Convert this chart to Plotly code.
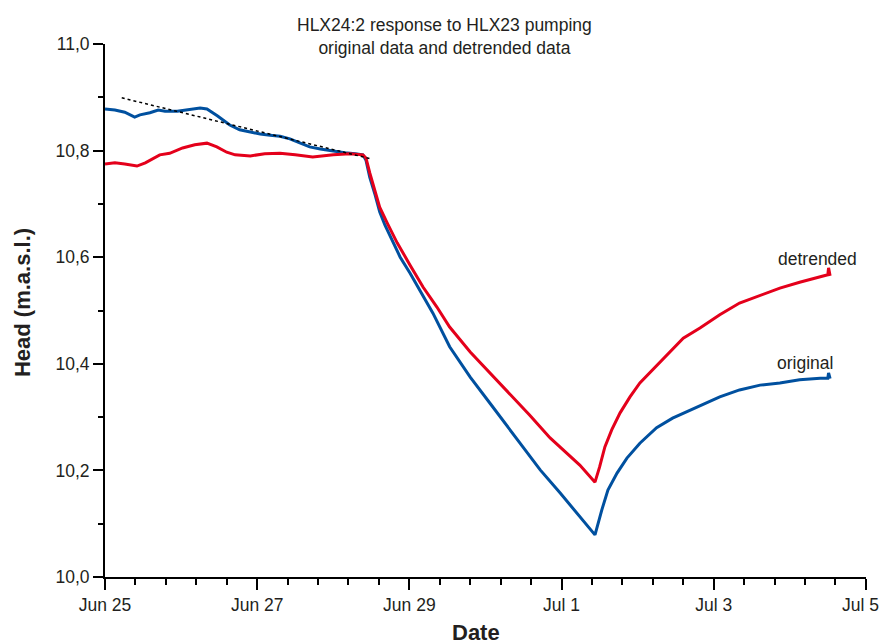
import pandas as pd
import plotly.graph_objects as go

# Time axis: days elapsed since 25 June 00:00
START = pd.Timestamp("2008-06-25")

orig_days = [0.00, 0.13, 0.26, 0.39, 0.46, 0.59, 0.70, 0.79, 0.95, 1.12, 1.25, 1.34,
             1.48, 1.64, 1.77, 1.91, 2.04, 2.17, 2.30, 2.43, 2.56, 2.69, 2.83, 3.00,
             3.15, 3.29, 3.39, 3.43, 3.48, 3.55, 3.61, 3.68, 3.75, 3.88, 4.01, 4.14,
             4.31, 4.53, 4.80, 5.06, 5.32, 5.45, 5.72, 5.98, 6.24, 6.44, 6.53, 6.61,
             6.73, 6.86, 7.03, 7.25, 7.46, 7.69, 7.91, 8.08, 8.34, 8.61, 8.87, 9.13,
             9.40, 9.50, 9.51, 9.53]
orig_head = [10.878, 10.876, 10.872, 10.863, 10.867, 10.871, 10.876, 10.874, 10.874, 10.878,
             10.880, 10.878, 10.865, 10.848, 10.839, 10.835, 10.831, 10.829, 10.827, 10.822,
             10.814, 10.807, 10.803, 10.799, 10.796, 10.794, 10.792, 10.782, 10.750, 10.717,
             10.685, 10.660, 10.638, 10.600, 10.570, 10.538, 10.495, 10.432, 10.375, 10.326,
             10.276, 10.251, 10.201, 10.158, 10.113, 10.079, 10.126, 10.163, 10.195, 10.223,
             10.251, 10.280, 10.298, 10.313, 10.326, 10.338, 10.351, 10.360, 10.364, 10.370,
             10.373, 10.373, 10.383, 10.372]

detr_days = [0.00, 0.13, 0.26, 0.42, 0.53, 0.59, 0.72, 0.85, 1.02, 1.18, 1.34, 1.47,
             1.60, 1.71, 1.91, 2.10, 2.30, 2.50, 2.73, 3.00, 3.22, 3.39, 3.43, 3.48,
             3.55, 3.61, 3.71, 3.84, 4.01, 4.18, 4.36, 4.53, 4.80, 5.06, 5.32, 5.58,
             5.85, 5.98, 6.24, 6.44, 6.50, 6.57, 6.66, 6.77, 6.90, 7.03, 7.19, 7.29,
             7.60, 7.82, 8.08, 8.34, 8.61, 8.87, 9.13, 9.40, 9.50, 9.51, 9.53]
detr_head = [10.775, 10.777, 10.775, 10.771, 10.777, 10.782, 10.792, 10.795, 10.805, 10.811,
             10.814, 10.807, 10.797, 10.792, 10.790, 10.794, 10.795, 10.792, 10.788, 10.792,
             10.794, 10.792, 10.786, 10.758, 10.726, 10.694, 10.664, 10.627, 10.585, 10.544,
             10.507, 10.469, 10.422, 10.383, 10.345, 10.304, 10.261, 10.244, 10.210, 10.178,
             10.206, 10.244, 10.276, 10.308, 10.338, 10.364, 10.388, 10.402, 10.448, 10.467,
             10.492, 10.514, 10.529, 10.542, 10.553, 10.563, 10.567, 10.580, 10.565]

# Pre-pumping linear trend fitted to the original record
trend_days = [0.22, 3.51]
trend_head = [10.899, 10.784]

x_tick_days = [0, 2, 4, 6, 8, 10]
x_tick_labels = ["Jun 25", "Jun 27", "Jun 29", "Jul 1", "Jul 3", "Jul 5"]
y_tick_vals = [10.0, 10.2, 10.4, 10.6, 10.8, 11.0]
y_tick_labels = ["10,0", "10,2", "10,4", "10,6", "10,8", "11,0"]


def to_dates(days):
    return START + pd.to_timedelta(days, unit="D")


FONT = "Liberation Sans, Arial, Helvetica, sans-serif"
BLUE = "#00509f"
RED = "#e4001b"
TXT = "#231f20"
TICK_FONT = dict(family=FONT, size=17.5, color=TXT)

fig = go.Figure()
fig.add_trace(go.Scatter(x=to_dates(orig_days), y=orig_head, mode="lines",
                         line=dict(color=BLUE, width=3), name="original"))
fig.add_trace(go.Scatter(x=to_dates(detr_days), y=detr_head, mode="lines",
                         line=dict(color=RED, width=3), name="detrended"))
fig.add_trace(go.Scatter(x=to_dates(trend_days), y=trend_head, mode="lines",
                         line=dict(color="black", width=1.5, dash="dot"), name="trend"))

# The last date label sits against the right edge, so it is drawn as an
# annotation pinned to the page border instead of a centred tick label.
axis_labels = x_tick_labels[:-1] + [""]

fig.update_layout(
    width=882, height=644,
    margin=dict(l=105, r=16, t=44, b=67, autoexpand=False),
    paper_bgcolor="white", plot_bgcolor="white",
    showlegend=False,
    font=dict(family=FONT, size=17.5, color=TXT),
    xaxis=dict(
        range=[to_dates([0])[0], to_dates([10.002])[0]],
        tickmode="array", tickvals=to_dates(x_tick_days), ticktext=axis_labels,
        ticks="outside", ticklen=11, tickwidth=2, tickcolor="black",
        ticklabeloverflow="allow", automargin=False,
        showline=True, linecolor="black", linewidth=2,
        showgrid=False, zeroline=False,
        tickfont=TICK_FONT,
        minor=dict(ticks="outside", ticklen=6, tickwidth=2, tickcolor="black",
                   dtick=0.4 * 86400000, tick0=START, showgrid=False),
    ),
    yaxis=dict(
        range=[10.0, 11.0],
        tickmode="array", tickvals=y_tick_vals, ticktext=y_tick_labels,
        ticks="outside", ticklen=10, tickwidth=2, tickcolor="black",
        showline=True, linecolor="black", linewidth=2,
        showgrid=False, zeroline=False, automargin=False,
        tickfont=TICK_FONT,
        minor=dict(ticks="outside", ticklen=5, tickwidth=2, tickcolor="black",
                   dtick=0.1, tick0=10.0, showgrid=False),
    ),
    annotations=[
        dict(text=x_tick_labels[-1], xref="paper", yref="paper", x=1.0195, y=-0.0525,
             xanchor="right", yanchor="middle", showarrow=False, font=TICK_FONT),
        dict(text="HLX24:2 response to HLX23 pumping<br>original data and detrended data",
             xref="paper", yref="paper", x=0.4465, y=1.014,
             xanchor="center", yanchor="middle", showarrow=False,
             font=dict(family=FONT, size=17.5, color=TXT)),
        dict(text="<b>Date</b>", xref="paper", yref="paper", x=0.4875, y=-0.105,
             xanchor="center", yanchor="middle", showarrow=False,
             font=dict(family=FONT, size=22, color=TXT)),
        dict(text="<b>Head (m.a.s.l.)</b>", xref="paper", yref="paper", x=-0.109, y=0.514,
             xanchor="center", yanchor="middle", textangle=-90, showarrow=False,
             font=dict(family=FONT, size=22, color=TXT)),
        dict(text="detrended", x=to_dates([9.36])[0], y=10.597, xref="x", yref="y",
             xanchor="center", yanchor="middle", showarrow=False,
             font=dict(family=FONT, size=17.5, color=TXT)),
        dict(text="original", x=to_dates([9.20])[0], y=10.402, xref="x", yref="y",
             xanchor="center", yanchor="middle", showarrow=False,
             font=dict(family=FONT, size=17.5, color=TXT)),
    ],
)

fig.write_html("out.html")
